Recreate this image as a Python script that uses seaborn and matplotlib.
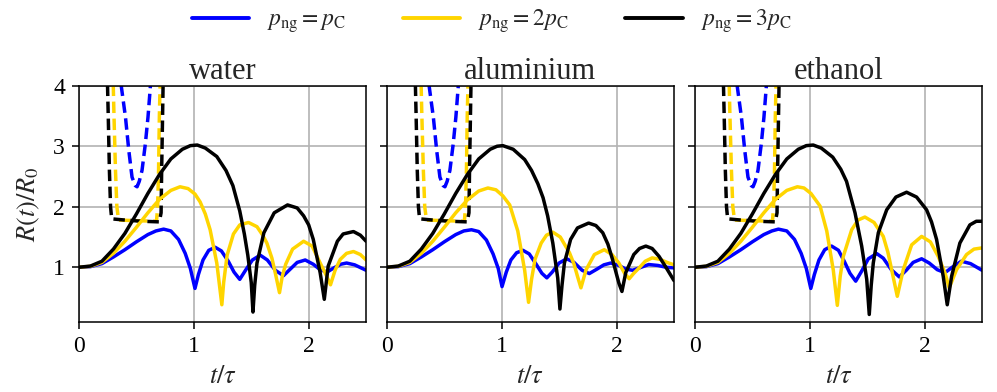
import numpy as np
import pandas as pd
import matplotlib
matplotlib.use("Agg")
import matplotlib.pyplot as plt
import seaborn as sns
from matplotlib.lines import Line2D

# ---------------- data ----------------
materials = ["water", "aluminium", "ethanol"]
series_labels = [r"$p_{\mathrm{ng}} = p_{\mathrm{C}}$",
                 r"$p_{\mathrm{ng}} = 2p_{\mathrm{C}}$",
                 r"$p_{\mathrm{ng}} = 3p_{\mathrm{C}}$"]
series_colors = ["#0000ff", "#ffd500", "#000000"]

# water
t_water_1 = [0, 0.1, 0.2, 0.3, 0.4, 0.5, 0.6, 0.67, 0.737, 0.80, 0.867, 0.925, 0.97, 1.01, 1.04, 1.08, 1.13, 1.186, 1.24, 1.30,
             1.35, 1.40, 1.45, 1.51, 1.578, 1.64, 1.71, 1.78, 1.84, 1.90, 1.97, 2.04, 2.10, 2.16, 2.22, 2.28, 2.33, 2.40, 2.5]
R_water_1 = [1, 1.01, 1.06, 1.17, 1.29, 1.42, 1.54, 1.60, 1.63, 1.60, 1.46, 1.23, 0.98, 0.65, 0.88, 1.12, 1.28, 1.33, 1.27, 1.10,
             0.92, 0.80, 0.95, 1.12, 1.20, 1.12, 0.95, 0.86, 0.97, 1.08, 1.12, 1.05, 0.96, 0.92, 0.99, 1.05, 1.07, 1.04, 0.95]
t_water_2 = [0, 0.1, 0.2, 0.3, 0.4, 0.5, 0.6, 0.7, 0.8, 0.88, 0.95, 1.01, 1.055, 1.10, 1.142, 1.20, 1.244, 1.26, 1.29, 1.345,
             1.40, 1.476, 1.55, 1.60, 1.636, 1.68, 1.71, 1.746, 1.77, 1.80, 1.86, 1.956, 2.03, 2.10, 2.15, 2.19, 2.23, 2.275,
             2.33, 2.39, 2.45, 2.5]
R_water_2 = [1, 1.015, 1.08, 1.23, 1.43, 1.66, 1.90, 2.12, 2.27, 2.33, 2.30, 2.21, 2.08, 1.88, 1.62, 1.07, 0.38, 0.75, 1.20, 1.55,
             1.70, 1.74, 1.67, 1.53, 1.40, 1.15, 0.90, 0.58, 0.85, 1.05, 1.30, 1.43, 1.35, 1.07, 0.88, 0.71, 0.95, 1.13,
             1.23, 1.26, 1.21, 1.12]
t_water_3 = [0, 0.1, 0.2, 0.3, 0.4, 0.5, 0.6, 0.7, 0.8, 0.9, 0.97, 1.03, 1.10, 1.20, 1.28, 1.34, 1.40, 1.44, 1.47, 1.50,
             1.515, 1.53, 1.55, 1.61, 1.70, 1.816, 1.90, 1.956, 2.00, 2.04, 2.10, 2.136, 2.17, 2.25, 2.30, 2.39, 2.45, 2.5]
R_water_3 = [1, 1.02, 1.10, 1.30, 1.56, 1.88, 2.22, 2.53, 2.79, 2.95, 3.01, 3.02, 2.97, 2.83, 2.60, 2.35, 1.93, 1.55, 1.20, 0.75,
             0.26, 0.70, 1.07, 1.57, 1.90, 2.03, 1.98, 1.85, 1.70, 1.46, 0.91, 0.47, 1.02, 1.43, 1.55, 1.59, 1.53, 1.43]

# aluminium
t_alu_1 = [0, 0.1, 0.2, 0.3, 0.4, 0.5, 0.6, 0.67, 0.737, 0.80, 0.867, 0.925, 0.97, 1.003, 1.04, 1.08, 1.13, 1.185, 1.24, 1.30,
           1.35, 1.393, 1.44, 1.50, 1.566, 1.63, 1.70, 1.763, 1.83, 1.89, 1.95, 2.02, 2.08, 2.14, 2.20, 2.28, 2.36, 2.43, 2.5]
R_alu_1 = [1, 1.01, 1.06, 1.17, 1.29, 1.42, 1.54, 1.60, 1.62, 1.59, 1.45, 1.22, 0.98, 0.68, 0.92, 1.12, 1.24, 1.28, 1.22, 1.05,
           0.90, 0.825, 0.92, 1.07, 1.14, 1.08, 0.95, 0.896, 0.97, 1.04, 1.07, 1.03, 0.97, 0.95, 0.99, 1.045, 1.03, 1.00, 0.99]
t_alu_2 = [0, 0.1, 0.2, 0.3, 0.4, 0.5, 0.6, 0.7, 0.8, 0.88, 0.95, 1.01, 1.07, 1.14, 1.20, 1.234, 1.26, 1.29, 1.344, 1.39,
           1.445, 1.51, 1.59, 1.63, 1.66, 1.69, 1.735, 1.807, 1.893, 1.96, 2.02, 2.07, 2.11, 2.15, 2.197, 2.25, 2.31, 2.38,
           2.44, 2.5]
R_alu_2 = [1, 1.015, 1.08, 1.23, 1.43, 1.66, 1.90, 2.11, 2.26, 2.31, 2.28, 2.18, 2.03, 1.60, 0.95, 0.42, 0.80, 1.13, 1.40, 1.53,
           1.58, 1.50, 1.24, 1.05, 0.85, 0.66, 0.96, 1.21, 1.29, 1.21, 1.07, 0.90, 0.81, 0.90, 0.99, 1.10, 1.155, 1.13,
           1.08, 1.04]
t_alu_3 = [0, 0.1, 0.2, 0.3, 0.4, 0.5, 0.6, 0.7, 0.8, 0.9, 0.96, 1.01, 1.10, 1.20, 1.26, 1.315, 1.36, 1.40, 1.445, 1.488,
           1.507, 1.525, 1.546, 1.60, 1.66, 1.757, 1.82, 1.88, 1.925, 1.965, 2.02, 2.047, 2.08, 2.15, 2.20, 2.255, 2.31, 2.37,
           2.43, 2.5]
R_alu_3 = [1, 1.02, 1.10, 1.30, 1.56, 1.88, 2.22, 2.53, 2.79, 2.95, 3.00, 3.01, 2.95, 2.78, 2.60, 2.38, 2.15, 1.85, 1.40, 0.82,
           0.31, 0.70, 1.07, 1.46, 1.65, 1.73, 1.69, 1.57, 1.38, 1.13, 0.74, 0.60, 0.91, 1.21, 1.31, 1.35, 1.31, 1.18,
           1.00, 0.78]

# ethanol
t_eth_1 = [0, 0.1, 0.2, 0.3, 0.4, 0.5, 0.6, 0.67, 0.727, 0.80, 0.867, 0.925, 0.97, 1.009, 1.04, 1.08, 1.13, 1.19, 1.25, 1.30,
           1.35, 1.40, 1.45, 1.51, 1.583, 1.64, 1.71, 1.78, 1.84, 1.90, 1.974, 2.04, 2.11, 2.177, 2.24, 2.32, 2.40, 2.5]
R_eth_1 = [1, 1.01, 1.06, 1.17, 1.29, 1.42, 1.54, 1.60, 1.63, 1.60, 1.46, 1.23, 0.98, 0.65, 0.88, 1.12, 1.29, 1.35, 1.28, 1.10,
           0.90, 0.77, 0.93, 1.14, 1.226, 1.15, 0.96, 0.84, 0.95, 1.08, 1.14, 1.07, 0.96, 0.91, 1.00, 1.10, 1.06, 0.95]
t_eth_2 = [0, 0.1, 0.2, 0.3, 0.4, 0.5, 0.6, 0.7, 0.8, 0.892, 0.95, 1.01, 1.09, 1.148, 1.205, 1.24, 1.265, 1.292, 1.365, 1.42,
           1.48, 1.56, 1.64, 1.68, 1.713, 1.762, 1.814, 1.887, 1.974, 2.05, 2.118, 2.177, 2.214, 2.278, 2.365, 2.43, 2.5]
R_eth_2 = [1, 1.015, 1.08, 1.23, 1.43, 1.66, 1.90, 2.12, 2.27, 2.33, 2.31, 2.22, 2.01, 1.60, 0.95, 0.37, 0.85, 1.18, 1.62, 1.78,
           1.83, 1.74, 1.51, 1.25, 0.96, 0.52, 0.96, 1.37, 1.51, 1.42, 1.18, 0.91, 0.66, 0.96, 1.21, 1.30, 1.32]
t_eth_3 = [0, 0.1, 0.2, 0.3, 0.4, 0.5, 0.6, 0.7, 0.8, 0.9, 0.97, 1.03, 1.10, 1.20, 1.27, 1.32, 1.394, 1.452, 1.496, 1.518,
           1.535, 1.553, 1.597, 1.67, 1.75, 1.843, 1.93, 2.017, 2.06, 2.104, 2.162, 2.197, 2.235, 2.307, 2.394, 2.45, 2.5]
R_eth_3 = [1, 1.02, 1.10, 1.30, 1.56, 1.88, 2.22, 2.53, 2.79, 2.95, 3.01, 3.02, 2.97, 2.82, 2.62, 2.42, 1.90, 1.35, 0.80, 0.22,
           0.70, 1.07, 1.57, 1.95, 2.16, 2.24, 2.16, 1.95, 1.75, 1.46, 0.85, 0.38, 0.85, 1.40, 1.70, 1.76, 1.76]

# dashed curves (identical in the three panels)
t_dash_1 = [0.36, 0.37, 0.405, 0.434, 0.462, 0.49, 0.506, 0.525, 0.549, 0.578, 0.601, 0.621, 0.63]
R_dash_1 = [4.3, 3.97, 3.48, 2.93, 2.49, 2.35, 2.33, 2.42, 2.60, 3.04, 3.48, 3.97, 4.3]
t_dash_2 = [0.295, 0.305, 0.318, 0.33, 0.345, 0.50, 0.675, 0.685, 0.693, 0.70, 0.71]
R_dash_2 = [4.3, 3.5, 2.6, 2.0, 1.78, 1.77, 1.76, 2.0, 2.6, 3.5, 4.3]
t_dash_3 = [0.245, 0.255, 0.265, 0.275, 0.285, 0.40, 0.55, 0.70, 0.715, 0.72, 0.728, 0.735]
R_dash_3 = [4.3, 3.5, 2.6, 2.0, 1.80, 1.78, 1.76, 1.75, 1.9, 2.6, 3.5, 4.3]

xticks = [0, 1, 2]
yticks = [1, 2, 3, 4]

solid = {
    "water": [(t_water_1, R_water_1), (t_water_2, R_water_2), (t_water_3, R_water_3)],
    "aluminium": [(t_alu_1, R_alu_1), (t_alu_2, R_alu_2), (t_alu_3, R_alu_3)],
    "ethanol": [(t_eth_1, R_eth_1), (t_eth_2, R_eth_2), (t_eth_3, R_eth_3)],
}
dashed = [(t_dash_1, R_dash_1), (t_dash_2, R_dash_2), (t_dash_3, R_dash_3)]

# ---------------- style ----------------
sns.set_style("ticks")
plt.rcParams["font.family"] = ["Liberation Serif", "DejaVu Serif"]
plt.rcParams["mathtext.fontset"] = "stix"
plt.rcParams["axes.linewidth"] = 1.1

fig = plt.figure(figsize=(9.97, 3.92), dpi=100)
lefts = [0.0792, 0.388, 0.697]
bottom, width, height = 0.1793, 0.288, 0.602
LW = 2.5

for i, mat in enumerate(materials):
    ax = fig.add_axes([lefts[i], bottom, width, height])
    ax.grid(True, color="#b3b3b3", lw=1.2, zorder=0)
    ax.set_axisbelow(True)
    for (tt, rr), c in zip(dashed, series_colors):
        sns.lineplot(x=tt, y=rr, ax=ax, color=c, lw=LW, linestyle=(0, (3.3, 1.6)),
                     estimator=None, sort=False)
    for (tt, rr), c in zip(solid[mat], series_colors):
        sns.lineplot(x=tt, y=rr, ax=ax, color=c, lw=LW,
                     estimator=None, sort=False)
    ax.set_xlim(0, 2.5)
    ax.set_ylim(0.1, 4)
    ax.set_xticks(xticks)
    ax.set_yticks(yticks)
    ax.tick_params(direction="out", length=5, width=1.1, labelsize=17, colors="black", pad=5)
    for s in ax.spines.values():
        s.set_visible(True)
        s.set_color("black")
    ax.set_title(mat, fontsize=22, pad=5)
    ax.set_xlabel(r"$t/\tau$", fontsize=19, labelpad=7)
    if i == 0:
        ax.set_ylabel(r"$R(t)/R_0$", fontsize=19, labelpad=8)
    else:
        ax.set_yticklabels([])
        ax.set_ylabel("")

handles = [Line2D([0], [0], color=c, lw=2.8) for c in series_colors]
fig.legend(handles, series_labels, loc="upper center", bbox_to_anchor=(0.493, 1.035),
           ncol=3, frameon=False, fontsize=17, handlelength=2.45, columnspacing=2.4,
           handletextpad=0.75)

fig.savefig("out.png", dpi=100)
